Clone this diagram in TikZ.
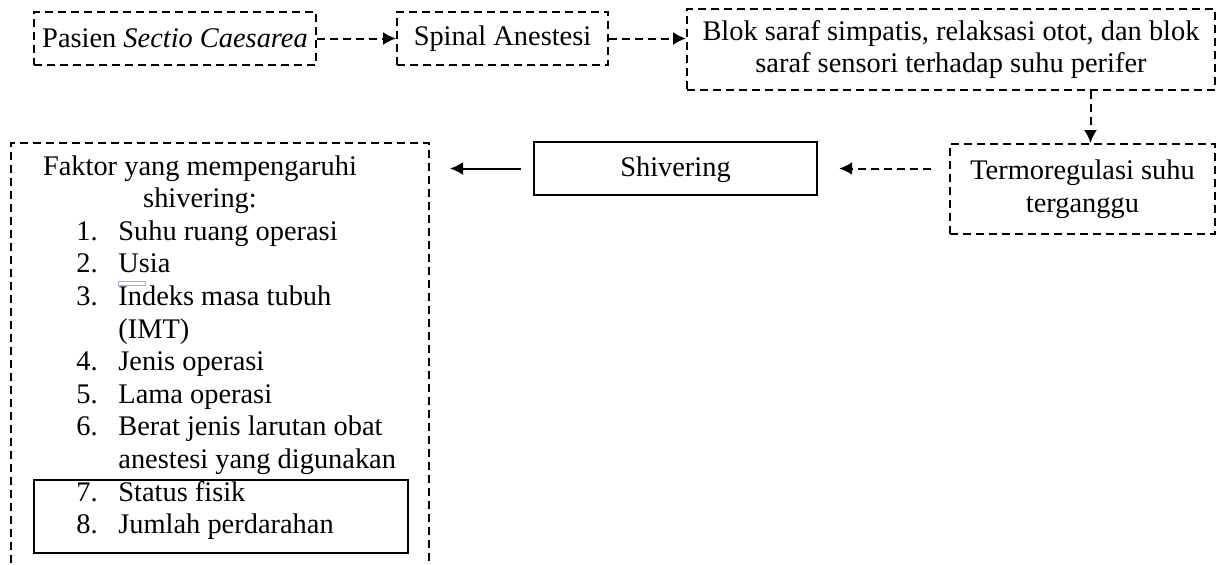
\documentclass[tikz,border=0pt]{standalone}
\usepackage{fontspec}
\setmainfont{Liberation Serif}
\usetikzlibrary{arrows.meta,positioning}

\begin{document}
\begin{tikzpicture}[
    x=0.5pt, y=-0.5pt,
    every node/.style={font=\fontsize{14.2}{16.3}\selectfont, inner sep=0pt},
    dbox/.style={rectangle, draw, dash pattern=on 4pt off 2.5pt, line width=1pt, align=center},
    sbox/.style={rectangle, draw, line width=1.2pt, align=center},
    e/.style={-{Latex[length=6.5pt,width=6.5pt]}, line width=1pt},
    de/.style={e, dash pattern=on 4pt off 2.5pt},
    itm/.style={anchor=base west},
  ]
  \useasboundingbox (0,0) rectangle (1228,564);
  \clip (0,0) rectangle (1228,564);
  \node[dbox, minimum width=141pt, minimum height=26.5pt] (pasien) at (175,38.5) {Pasien \textit{Sectio Caesarea}};
  \node[dbox, minimum width=105.5pt, minimum height=26.5pt] (spinal) at (502.5,38.5) {Spinal Anestesi};
  \node[dbox, minimum width=264pt, minimum height=40.5pt] (blok) at (951,49.5) {Blok saraf simpatis, relaksasi otot, dan blok\\saraf sensori terhadap suhu perifer};
  \node[dbox, minimum width=132.5pt, minimum height=45pt] (termo) at (1082.5,189) {Termoregulasi suhu\\terganggu};
  \node[sbox, minimum width=141.5pt, minimum height=26.5pt, text height=10pt, text depth=2pt] (shiv) at (675.5,168.5) {Shivering};
  \node[dbox, anchor=north west, minimum width=209pt, minimum height=260pt] (faktor) at (10,142) {};
  % isi kotak faktor
  \node[anchor=base] (head1) at (200,175) {Faktor yang mempengaruhi};
  \node[anchor=base] (head2) at (200,207.6) {shivering:};
  \foreach \nr/\txt [count=\i] in {1./Suhu ruang operasi, 2./Usia, 3./Indeks masa tubuh, /(IMT), 4./Jenis operasi, 5./Lama operasi, 6./Berat jenis larutan obat, /anestesi yang digunakan, 7./Status fisik, 8./Jumlah perdarahan}
  {
    \node[itm] (num\i) at (76,175+\i*32.6+32.6) {\nr};
    \node[itm] (item\i) at (118,175+\i*32.6+32.6) {\txt};
  }
  \node[sbox, minimum width=187pt, minimum height=36.5pt] (grp) at (221,516.5) {};
  \draw[blue!35, line width=0.4pt] (118,281) rectangle (145,285);
  % panah
  \draw[de] (pasien) -- (spinal);
  \draw[de] (spinal.east) -- (spinal.east -| blok.west);
  \draw[de] ([xshift=4pt]blok.south -| termo.north) -- ([xshift=4pt]termo.north);
  \draw[de, shorten <=9pt, shorten >=10.5pt] (termo.west |- shiv) -- (shiv.east);
  \draw[e, shorten <=6pt, shorten >=10pt] (shiv.west) -- (shiv.west -| faktor.east);
\end{tikzpicture}
\end{document}
